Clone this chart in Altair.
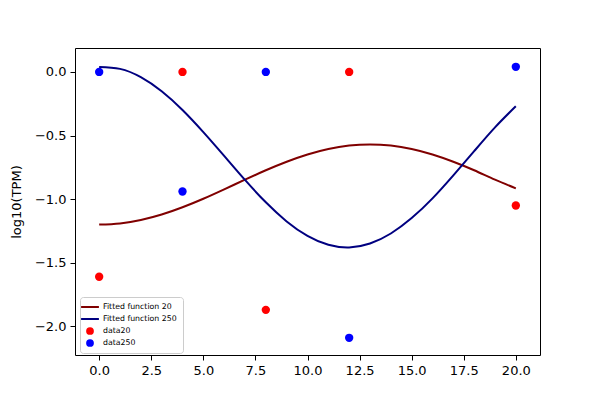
import altair as alt
import pandas as pd

# Fitted curves (x = 0..20)
x_fit = list(range(21))
fit20 = [-1.200, -1.191, -1.164, -1.121, -1.064, -0.997, -0.923, -0.847, -0.773,
         -0.706, -0.649, -0.606, -0.579, -0.570, -0.579, -0.606, -0.649, -0.706,
         -0.773, -0.847, -0.915]
fit250 = [0.039, 0.024, -0.041, -0.152, -0.299, -0.473, -0.660, -0.849, -1.025,
          -1.175, -1.289, -1.359, -1.380, -1.349, -1.270, -1.149, -0.994, -0.813,
          -0.623, -0.436, -0.270]

# Observed data
x_data = [0, 4, 8, 12, 20]
data20 = [-1.61, 0.0, -1.87, 0.0, -1.05]
data250 = [0.0, -0.94, 0.0, -2.09, 0.04]

names = ["Fitted function 20", "Fitted function 250", "data20", "data250"]
colors = ["#800000", "#000080", "#ff0000", "#0000ff"]
line_sym = "M-2.3,-0.26H2.3V0.26H-2.3Z"
shapes = [line_sym, line_sym, "circle", "circle"]

fit_df = pd.DataFrame({
    "x": x_fit + x_fit,
    "y": fit20 + fit250,
    "series": [names[0]] * len(x_fit) + [names[1]] * len(x_fit),
})
pts_df = pd.DataFrame({
    "x": x_data + x_data,
    "y": data20 + data250,
    "series": [names[2]] * len(x_data) + [names[3]] * len(x_data),
})

xs = alt.Scale(domain=[-1.16, 21.16], nice=False, zero=False)
ys = alt.Scale(domain=[-2.225, 0.188], nice=False, zero=False)
xax = alt.Axis(title=None, values=[0, 2.5, 5, 7.5, 10, 12.5, 15, 17.5, 20], format=".1f")
yax = alt.Axis(title="log10(TPM)", values=[0, -0.5, -1, -1.5, -2], format=".1f")

color_scale = alt.Scale(domain=names, range=colors)
shape_scale = alt.Scale(domain=names, range=shapes)
legend = alt.Legend(
    title=None, orient="none", legendX=5, legendY=249,
    fillColor="rgba(255,255,255,0.8)", strokeColor="#cccccc", cornerRadius=3,
    padding=6, symbolSize=60, labelFontSize=7.8, labelFont="DejaVu Sans",
    rowPadding=4, labelOffset=9, symbolStrokeWidth=0, labelColor="black",
)

points = alt.Chart(pts_df).mark_point(filled=True, size=70, opacity=1, strokeWidth=0).encode(
    x=alt.X("x:Q", scale=xs, axis=xax),
    y=alt.Y("y:Q", scale=ys, axis=yax),
    color=alt.Color("series:N", scale=color_scale, legend=legend),
    shape=alt.Shape("series:N", scale=shape_scale, legend=legend),
)
lines = alt.Chart(fit_df).mark_line(strokeWidth=2, interpolate="natural").encode(
    x=alt.X("x:Q", scale=xs, axis=xax),
    y=alt.Y("y:Q", scale=ys, axis=yax),
    color=alt.Color("series:N", scale=color_scale, legend=legend),
)

chart = alt.layer(points, lines).properties(
    width=465, height=307,
    autosize=alt.AutoSizeParams(type="none"),
    padding={"left": 67, "top": 40, "right": 45, "bottom": 35},
).configure(font="DejaVu Sans").configure_view(
    stroke="black", strokeWidth=1
).configure_axis(
    grid=False, domain=False, tickColor="black", tickSize=5, tickWidth=1,
    labelFontSize=13, labelColor="black", labelPadding=4,
    titleFontSize=13, titleFontWeight="normal", titleColor="black", titlePadding=11,
)

chart.save("out.html", embed_options={"renderer": "svg", "actions": False})
